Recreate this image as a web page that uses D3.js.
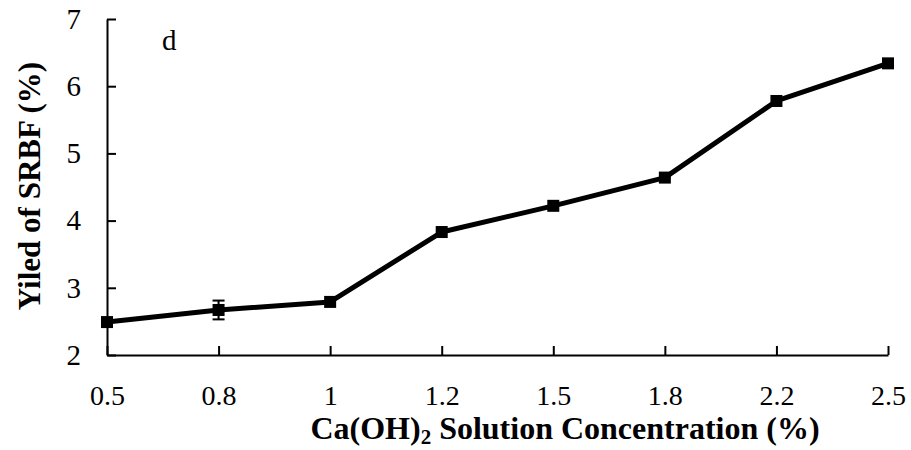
<!DOCTYPE html>
<html>
<head>
<meta charset="utf-8">
<script src="https://cdn.jsdelivr.net/npm/d3@7"></script>
<style>
  html, body { margin: 0; padding: 0; background: #fff; }
  svg { display: block; }
  text { font-family: "Liberation Serif", "Times New Roman", Times, serif; fill: #000; }
</style>
</head>
<body>
<svg id="chart" width="911" height="450"></svg>
<script>
// Ca(OH)2 concentration (%) and SRBF yield (%)
const concentrations = ["0.5", "0.8", "1", "1.2", "1.5", "1.8", "2.2", "2.5"];
const yieldValues = [2.49, 2.67, 2.79, 3.83, 4.22, 4.64, 5.78, 6.34];
const yieldErrors = [0, 0.14, 0, 0, 0, 0, 0, 0];
const yTicks = [2, 3, 4, 5, 6, 7];

const svg = d3.select("#chart");

const x = d3.scalePoint().domain(concentrations).range([107, 888]);
const y = d3.scaleLinear().domain([2, 7]).range([355, 19]);

// y axis: ticks pointing inward
const yAxis = svg.append("g")
  .attr("transform", "translate(107,0)")
  .call(d3.axisLeft(y).tickValues(yTicks).tickFormat(d3.format("d"))
    .tickSizeInner(-9).tickSizeOuter(0).tickPadding(26));
yAxis.select(".domain").attr("stroke", "#000").attr("stroke-width", 2);
yAxis.selectAll(".tick line").attr("stroke", "#000").attr("stroke-width", 2);
yAxis.selectAll(".tick text").attr("font-size", 29)
  .attr("font-family", "Liberation Serif, Times New Roman, serif");

// x axis: ticks pointing inward
const xAxis = svg.append("g")
  .attr("transform", "translate(0,355)")
  .call(d3.axisBottom(x).tickSizeInner(-9).tickSizeOuter(0).tickPadding(30));
xAxis.select(".domain").attr("stroke", "#000").attr("stroke-width", 2);
xAxis.selectAll(".tick line").attr("stroke", "#000").attr("stroke-width", 2);
xAxis.selectAll(".tick text").attr("font-size", 28)
  .attr("font-family", "Liberation Serif, Times New Roman, serif");

// series line
const pts = concentrations.map((c, i) => ({ c, v: yieldValues[i], e: yieldErrors[i] }));
svg.append("path")
  .datum(pts)
  .attr("fill", "none")
  .attr("stroke", "#000")
  .attr("stroke-width", 5)
  .attr("stroke-linejoin", "round")
  .attr("d", d3.line().x(d => x(d.c)).y(d => y(d.v)));

// error bars
const eb = svg.append("g").selectAll("g").data(pts.filter(d => d.e > 0)).join("g");
eb.append("line")
  .attr("x1", d => x(d.c)).attr("x2", d => x(d.c))
  .attr("y1", d => y(d.v + d.e)).attr("y2", d => y(d.v - d.e))
  .attr("stroke", "#000").attr("stroke-width", 2);
eb.selectAll(".cap").data(d => [{ c: d.c, v: d.v + d.e }, { c: d.c, v: d.v - d.e }]).join("line")
  .attr("class", "cap")
  .attr("x1", d => x(d.c) - 6).attr("x2", d => x(d.c) + 6)
  .attr("y1", d => y(d.v)).attr("y2", d => y(d.v))
  .attr("stroke", "#000").attr("stroke-width", 2);

// square markers
const m = 12;
svg.append("g").selectAll("rect").data(pts).join("rect")
  .attr("x", d => x(d.c) - m / 2)
  .attr("y", d => y(d.v) - m / 2)
  .attr("width", m).attr("height", m)
  .attr("fill", "#000");

// panel letter
svg.append("text")
  .attr("x", 162).attr("y", 50)
  .attr("font-size", 29)
  .text("d");

// axis titles
svg.append("text")
  .attr("transform", "translate(40,186) rotate(-90)")
  .attr("text-anchor", "middle")
  .attr("font-size", 31)
  .attr("font-weight", "bold")
  .text("Yiled of SRBF (%)");

const xt = svg.append("text")
  .attr("x", 565).attr("y", 439)
  .attr("text-anchor", "middle")
  .attr("font-size", 32)
  .attr("font-weight", "bold");
xt.append("tspan").text("Ca(OH)");
xt.append("tspan").attr("font-size", 21).attr("dy", 5).text("2");
xt.append("tspan").attr("dy", -5).text(" Solution Concentration (%)");
</script>
</body>
</html>
